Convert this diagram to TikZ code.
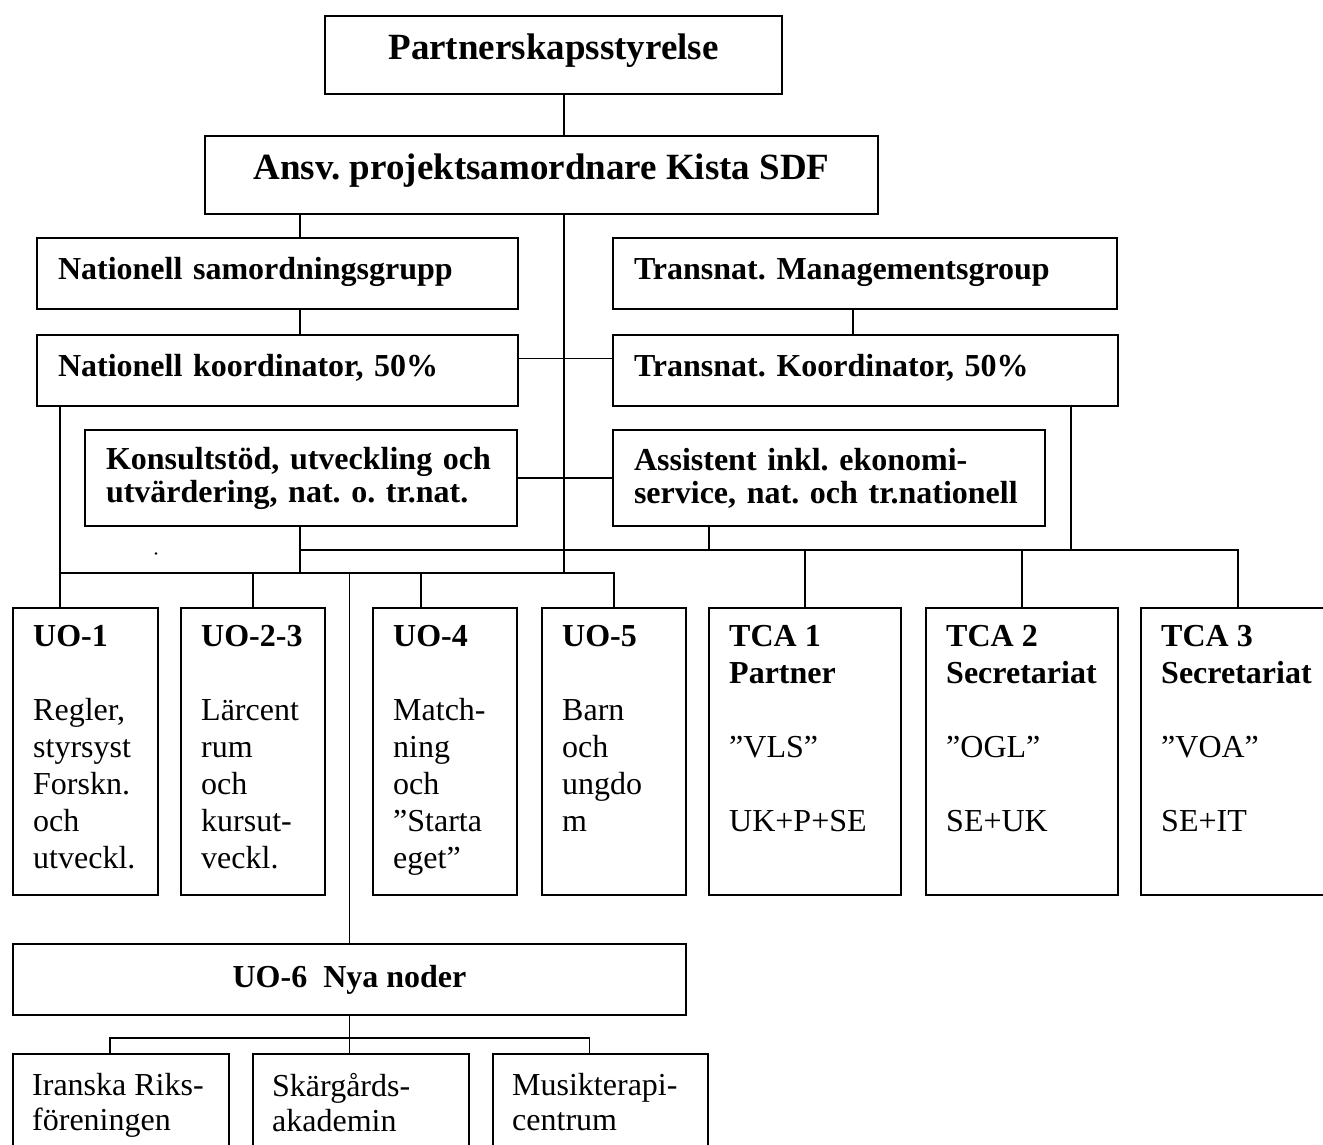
\documentclass[tikz,border=0pt]{standalone}
\usepackage{fontspec}
\setmainfont{Liberation Serif}
\frenchspacing
\begin{document}
\begin{tikzpicture}[x=1pt,y=-1pt,
  box/.style={draw,line width=2pt,anchor=north west,inner sep=0pt},
  headbox/.style={box,font=\bfseries\fontsize{37}{43}\selectfont,minimum height=78pt,
    text height=26pt,text depth=17pt},
  midbox/.style={box,font=\bfseries\fontsize{32}{33}\selectfont,align=left,inner xsep=21pt},
  onerow/.style={minimum height=71pt,text height=22pt,text depth=10pt},
  uobox/.style={box,minimum height=287pt},
  uotext/.style={anchor=north west,align=left,inner sep=0pt,xshift=21pt,yshift=-18.5pt},
  nodbox/.style={box,minimum height=130pt},
  nodtext/.style={anchor=north west,align=left,inner sep=0pt,xshift=20pt,yshift=-20pt,
    font=\fontsize{32}{35}\selectfont},
  line/.style={line width=1.6pt}]
\tikzset{every node/.style={font=\fontsize{32}{37}\selectfont}}
%\tikzset{every node/.style={font=\bfseries\fontsize{32}{37}\selectfont}}
\useasboundingbox (0,0) rectangle (1323,1145);

\node[headbox,minimum width=457pt] (partner) at (324,15) {Partnerskapsstyrelse};
\node[headbox,minimum width=673pt] (ansv) at (204,135) {Ansv. projektsamordnare Kista SDF};

\node[midbox,onerow,text width=439pt] (natgrp) at (36,237) {Nationell samordningsgrupp};
\node[midbox,onerow,text width=462pt] (trgrp) at (612,237) {Transnat. Managementsgroup};
\node[midbox,onerow,text width=439pt] (natkoord) at (36,334) {Nationell koordinator, 50\%};
\node[midbox,onerow,text width=463pt] (trkoord) at (612,334) {Transnat. Koordinator, 50\%};
\node[midbox,text width=390pt,minimum height=96pt] (konsult) at (84,429)
  {Konsultstöd, utveckling och\\utvärdering, nat. o. tr.nat.};
\node[midbox,text width=390pt,minimum height=96pt] (assist) at (612,429)
  {Assistent inkl. ekonomi-\\service, nat. och tr.nationell};

\node[uobox,minimum width=145pt,label={[uotext]north west:{\textbf{UO-1}\\[37pt]Regler,\\styrsyst\\Forskn.\\och\\utveckl.}}] (uo1) at (12,607) {};
\node[uobox,minimum width=144pt,label={[uotext]north west:{\textbf{UO-2-3}\\[37pt]Lärcent\\rum\\och\\kursut-\\veckl.}}] (uo23) at (180,607) {};
\node[uobox,minimum width=144pt,label={[uotext]north west:{\textbf{UO-4}\\[37pt]Match-\\ning\\och\\”Starta\\eget”}}] (uo4) at (372,607) {};
\node[uobox,minimum width=144pt,label={[uotext]north west:{\textbf{UO-5}\\[37pt]Barn\\och\\ungdo\\m}}] (uo5) at (541,607) {};
\node[uobox,minimum width=192pt,label={[uotext]north west:{\textbf{TCA 1}\\\textbf{Partner}\\[37pt]”VLS”\\[37pt]UK+P+SE}}] (tca1) at (708,607) {};
\node[uobox,minimum width=192pt,label={[uotext]north west:{\textbf{TCA 2}\\\textbf{Secretariat}\\[37pt]”OGL”\\[37pt]SE+UK}}] (tca2) at (925,607) {};
\node[uobox,minimum width=194pt,label={[uotext]north west:{\textbf{TCA 3}\\\textbf{Secretariat}\\[37pt]”VOA”\\[37pt]SE+IT}}] (tca3) at (1140,607) {};

\node[box,font=\bfseries\fontsize{32}{37}\selectfont,minimum width=673pt,minimum height=71pt] (uo6) at (12,943) {UO-6\ \ Nya noder};
\node[nodbox,minimum width=216pt,label={[nodtext]north west:{Iranska Riks-\\föreningen}}] (iran) at (12,1053) {};
\node[nodbox,minimum width=216pt,label={[nodtext]north west:{Skärgårds-\\akademin}}] (skarg) at (252,1053) {};
\node[nodbox,minimum width=215pt,label={[nodtext]north west:{Musikterapi-\\centrum}}] (musik) at (492,1053) {};

\coordinate (spine) at (564,573);
\coordinate (trbus) at (300,550);
\coordinate (nodbus) at (348,1038);
\fill (156,553.5) circle (1.3pt);

% ledning
\draw[line] (partner.south -| spine) -- (ansv.north -| spine);
\draw[line] (ansv.south -| spine) -- (spine);
\draw[line] (ansv.south -| trbus) -- (natgrp.north -| trbus);
\draw[line] (natgrp.south -| trbus) -- (natkoord.north -| trbus);
\draw[line] ([xshift=-12pt]trgrp.south) -- ([xshift=-12pt]trgrp.south |- trkoord.north);
\draw[line] ([yshift=12pt]natkoord.east) -- ([yshift=12pt]natkoord.east -| trkoord.west);
\draw[line] (konsult.east) -- (assist.west);
% transnationell skena
\draw[line] (konsult.south -| trbus) -- (trbus |- spine);
\draw[line] (trbus) -- (trbus -| tca3.north) -- (tca3.north);
\draw[line] ([xshift=-120pt]assist.south) -- ([xshift=-120pt]assist.south |- trbus);
\draw[line] ([xshift=-48pt]trkoord.south east) -- ([xshift=-48pt]trkoord.south east |- trbus);
\draw[line] (tca1.north) -- (tca1.north |- trbus);
\draw[line] (tca2.north) -- (tca2.north |- trbus);
% nationell skena
\draw[line] ([xshift=24pt]natkoord.south west) -- ([xshift=24pt]natkoord.south west |- uo1.north);
\draw[line] ([xshift=24pt]natkoord.south west |- spine) -- (spine) -| (uo5.north);
\draw[line] (uo23.north) -- (uo23.north |- spine);
\draw[line] ([xshift=-24pt]uo4.north) -- ([xshift=-24pt]uo4.north |- spine);
\draw[line] (uo6.north) -- (uo6.north |- spine);
% nya noder
\draw[line] (uo6.south) -- (uo6.south |- skarg.north);
\draw[line] ([xshift=-11pt]iran.north) -- ([xshift=-11pt]iran.north |- nodbus)
  -- ([xshift=-11pt]musik.north |- nodbus) -- ([xshift=-11pt]musik.north);
\end{tikzpicture}
\end{document}
